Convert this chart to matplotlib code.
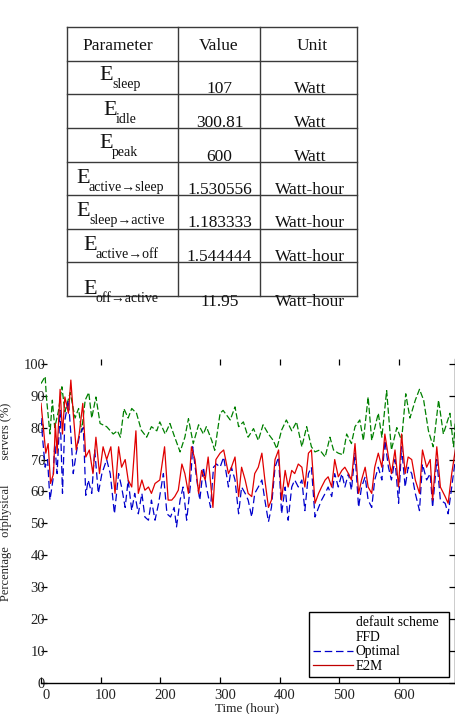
import matplotlib
matplotlib.use("Agg")
import matplotlib.pyplot as plt
import matplotlib.transforms as mtransforms
from matplotlib.lines import Line2D

# ---------------- table data ----------------
table_header = ["Parameter", "Value", "Unit"]
param_main = ["E", "E", "E", "E", "E", "E", "E"]
param_sub = ["sleep", "idle", "peak", "active\u2192sleep", "sleep\u2192active",
             "active\u2192off", "off\u2192active"]
param_values = ["107", "300.81", "600", "1.530556", "1.183333", "1.544444", "11.95"]
param_units = ["Watt", "Watt", "Watt", "Watt-hour", "Watt-hour", "Watt-hour", "Watt-hour"]

# ---------------- chart data ----------------
t_default = [0, 7, 9, 15, 19, 23, 29, 35, 40, 49, 57, 63, 68, 74, 80, 85, 92, 99, 110, 121,
             128, 133, 139, 146, 152, 160, 168, 177, 185, 194, 199, 208, 216, 224, 233, 241,
             247, 255, 264, 272, 277, 286, 291, 300, 305, 317, 325, 331, 339, 347, 356, 364,
             372, 381, 389, 395, 403, 411, 420, 428, 437, 445, 453, 459, 467, 476, 484, 490,
             498, 506, 512, 520, 526, 534, 540, 548, 554, 565, 571, 579, 587, 596, 604, 611,
             618, 627, 634, 641, 649, 657, 666, 674, 685, 691, 694]
v_default = [93.8, 96.0, 89.6, 78.0, 88.6, 80.0, 85.0, 92.8, 85.0, 91.0, 83.0, 86.0, 78.7, 88.6,
             91.0, 83.0, 89.6, 81.3, 80.3, 78.0, 79.0, 77.0, 85.9, 83.0, 86.0, 84.5, 79.2, 77.0,
             80.3, 79.0, 81.8, 78.0, 81.3, 77.0, 72.4, 77.0, 82.8, 75.0, 80.9, 78.0, 80.3, 76.0,
             72.9, 84.5, 85.4, 82.4, 86.5, 80.3, 81.8, 77.0, 79.7, 76.0, 80.9, 78.0, 76.0, 73.4,
             79.2, 82.4, 79.0, 81.8, 74.0, 80.3, 74.0, 72.4, 73.0, 70.8, 77.0, 73.0, 72.0, 71.5,
             78.0, 75.0, 80.3, 82.4, 76.0, 89.6, 76.0, 84.5, 77.0, 91.6, 73.0, 80.0, 76.0, 90.6,
             83.0, 88.6, 92.0, 88.6, 79.0, 74.0, 88.6, 78.0, 84.5, 74.0, 82.0]

t_optimal = [0, 3, 7, 11, 15, 20, 23, 27, 32, 36, 40, 46, 50, 54, 59, 65, 71, 75, 79, 85, 90,
             96, 102, 110, 116, 123, 130, 135, 141, 146, 152, 157, 163, 169, 174, 180, 185, 191,
             197, 205, 211, 217, 223, 227, 233, 238, 244, 250, 254, 261, 266, 272, 277, 284, 289,
             294, 300, 306, 314, 319, 325, 331, 336, 342, 347, 353, 358, 364, 370, 375, 381, 386,
             392, 398, 403, 409, 414, 420, 425, 431, 437, 442, 448, 453, 459, 465, 470, 476, 481,
             487, 492, 498, 504, 509, 515, 520, 526, 532, 537, 543, 548, 554, 559, 565, 571, 576,
             582, 587, 593, 599, 604, 610, 615, 621, 627, 634, 639, 646, 652, 656, 663, 669, 677,
             682, 688, 694]
v_optimal = [83.0, 76.0, 67.6, 70.0, 57.3, 63.6, 75.0, 65.6, 85.4, 59.4, 82.4, 88.6, 78.0, 65.6,
             72.0, 78.0, 80.0, 58.8, 63.6, 59.4, 73.0, 59.4, 65.6, 70.0, 65.6, 53.0, 65.6, 61.4,
             55.0, 63.6, 54.0, 59.4, 53.0, 59.4, 52.0, 51.0, 57.3, 51.0, 56.3, 65.6, 53.0, 52.0,
             55.0, 48.9, 57.3, 61.4, 51.0, 61.4, 74.0, 63.6, 57.3, 67.6, 61.4, 55.0, 67.6, 68.6,
             67.6, 70.8, 61.4, 67.6, 63.6, 53.0, 61.4, 59.4, 57.3, 52.0, 59.4, 61.4, 63.6, 57.3,
             50.5, 55.0, 67.6, 70.8, 53.0, 61.4, 51.0, 61.4, 63.6, 61.4, 63.6, 54.0, 65.6, 67.6,
             52.0, 55.0, 57.3, 59.4, 61.4, 58.4, 65.6, 61.4, 65.6, 61.4, 65.6, 60.4, 72.0, 55.0,
             61.4, 64.6, 57.3, 55.0, 63.6, 67.6, 63.6, 76.0, 67.6, 63.6, 70.0, 56.3, 74.0, 61.4,
             67.6, 65.6, 59.4, 54.0, 68.6, 63.6, 65.6, 55.0, 70.0, 57.3, 56.3, 53.0, 61.4, 70.0]

t_e2m = [0, 4, 8, 12, 16, 21, 24, 27, 32, 36, 40, 46, 50, 54, 59, 64, 70, 75, 81, 87, 92, 98,
         104, 110, 117, 124, 130, 135, 141, 146, 152, 159, 163, 169, 174, 180, 185, 191, 199, 207,
         213, 219, 224, 230, 236, 241, 247, 252, 258, 264, 269, 275, 280, 288, 293, 300, 306, 314,
         319, 325, 331, 336, 342, 347, 353, 358, 364, 370, 375, 381, 386, 392, 398, 403, 409, 414,
         420, 425, 431, 437, 442, 448, 453, 459, 465, 470, 476, 481, 487, 492, 498, 504, 509, 515,
         520, 526, 532, 537, 543, 548, 554, 559, 565, 571, 576, 582, 587, 593, 599, 604, 610, 615,
         621, 627, 634, 639, 646, 652, 656, 663, 669, 677, 682, 688, 694]
v_e2m = [87.6, 80.0, 72.0, 75.0, 62.5, 65.6, 81.3, 72.0, 92.0, 78.0, 89.6, 84.5, 94.9, 84.5, 73.0,
         78.0, 87.6, 70.8, 73.0, 65.6, 77.0, 65.6, 74.0, 70.0, 74.0, 59.4, 74.0, 67.6, 70.0, 63.6,
         61.4, 79.0, 59.4, 63.6, 60.4, 61.4, 59.4, 62.5, 63.6, 74.0, 57.3, 57.3, 58.4, 60.4, 68.6,
         65.6, 59.4, 74.0, 70.0, 59.4, 66.6, 63.6, 70.8, 55.0, 70.0, 72.0, 73.0, 65.6, 67.6, 70.8,
         58.4, 67.6, 63.6, 59.4, 58.4, 65.6, 67.6, 72.0, 63.6, 55.0, 57.3, 70.0, 73.0, 57.3, 66.6,
         61.4, 66.6, 65.6, 68.6, 67.6, 61.4, 72.0, 73.0, 56.3, 59.4, 61.4, 63.6, 64.6, 61.4, 70.0,
         64.6, 66.6, 67.6, 65.6, 63.6, 75.0, 59.4, 63.6, 67.6, 61.4, 59.4, 67.6, 72.0, 67.6, 78.0,
         70.8, 65.6, 73.0, 61.4, 78.0, 65.6, 70.8, 70.0, 63.6, 59.4, 73.0, 67.6, 70.0, 57.3, 74.0,
         61.4, 58.4, 56.3, 65.6, 73.0]

x_ticks = [0, 100, 200, 300, 400, 500, 600]
x_top_ticks = [100, 300, 400, 500, 600]
y_ticks = [0, 10, 20, 30, 40, 50, 60, 70, 80, 90, 100]
legend_labels = ["default scheme", "FFD", "Optimal", "E2M"]

# ---------------- figure ----------------
W, H = 456, 714
fig = plt.figure(figsize=(W / 100, H / 100), dpi=100)
SERIF = ["Liberation Serif", "DejaVu Serif"]


def fx(px):
    return px / W


def fy(py):
    return 1 - py / H


# ---- table ----
col_x = [67, 178, 260, 357]
row_y = [27, 61, 94, 128, 162, 195, 229, 262, 296]
tcol = "#3a3a3a"
for xx in col_x:
    fig.add_artist(Line2D([fx(xx), fx(xx)], [fy(row_y[0]), fy(row_y[-1])],
                          color=tcol, lw=1.0, transform=fig.transFigure))
for yy in row_y:
    fig.add_artist(Line2D([fx(col_x[0]), fx(col_x[-1])], [fy(yy), fy(yy)],
                          color=tcol, lw=1.0, transform=fig.transFigure))

hdr_x = [118, 219, 312]
for lbl, hx in zip(table_header, hdr_x):
    fig.text(fx(hx), fy(50), lbl, ha="center", va="baseline", fontsize=12.5,
             family=SERIF, color="#111111")

e_left = [99, 103, 99, 76, 76, 83, 83]
e_base_off = [19, 21, 20, 21, 21, 21, 32]
val_base_off = [32, 33, 33, 32, 32, 32, 44]
for i in range(7):
    top = row_y[i + 1]
    fig.text(fx(e_left[i]), fy(top + e_base_off[i]), param_main[i], ha="left",
             va="baseline", fontsize=16, family=SERIF, color="#111111")
    fig.text(fx(e_left[i] + 13), fy(top + e_base_off[i] + 8), param_sub[i], ha="left",
             va="baseline", fontsize=10, family=SERIF, color="#111111")
    fig.text(fx(219.5), fy(top + val_base_off[i]), param_values[i], ha="center",
             va="baseline", fontsize=12.5, family=SERIF, color="#111111")
    fig.text(fx(310), fy(top + val_base_off[i]), param_units[i], ha="center",
             va="baseline", fontsize=12.5, family=SERIF, color="#111111")

# ---- chart ----
ax_l, ax_r, ax_t, ax_b = 41, 455, 359, 683
ax = fig.add_axes([fx(ax_l), fy(ax_b), (ax_r - ax_l) / W, (ax_b - ax_t) / H])
ax.set_xlim(0, 693.5)
ax.set_ylim(0, 101.5)

ax.plot(t_default, v_default, color="#008000", lw=0.9, linestyle=(0, (5, 2)),
        label=legend_labels[0])
ax.plot(t_optimal, v_optimal, color="#0000cc", lw=0.9, dashes=(6, 3),
        label=legend_labels[2])
ax.plot(t_e2m, v_e2m, color="#e00000", lw=0.9, label=legend_labels[3])

for s in ["left", "top"]:
    ax.spines[s].set_visible(False)
ax.spines["right"].set_linewidth(1.0)
ax.spines["bottom"].set_linewidth(1.0)

ax.set_xticks(x_ticks)
ax.set_yticks(y_ticks)
ax.tick_params(axis="x", direction="in", length=4, width=0.9, pad=4,
               labelsize=10.5)
ax.tick_params(axis="y", direction="in", length=4, width=0.9, pad=-3,
               labelsize=10.5, right=True)
shift = mtransforms.ScaledTranslation(5 / 100, 0, fig.dpi_scale_trans)
for lab in ax.get_xticklabels():
    lab.set_transform(lab.get_transform() + shift)
for lab in ax.get_xticklabels() + ax.get_yticklabels():
    lab.set_family(SERIF)
    lab.set_color("#222222")

top = ax.secondary_xaxis("top")
top.set_xticks(x_top_ticks)
top.tick_params(direction="in", length=4, width=0.9, labeltop=False)
top.spines["top"].set_visible(False)

handles = [Line2D([], [], color="none"), Line2D([], [], color="none"),
           Line2D([], [], color="#0000cc", lw=0.9, dashes=(6, 3)),
           Line2D([], [], color="#c00000", lw=0.9)]
leg = ax.legend(handles, legend_labels, loc="lower left",
                bbox_to_anchor=(fx(309), fy(677), (449 - 309) / W, (677 - 612) / H),
                bbox_transform=fig.transFigure, mode="expand", borderaxespad=0,
                fancybox=False, framealpha=1, edgecolor="black",
                prop={"family": SERIF, "size": 9.8}, handlelength=2.9,
                handletextpad=0.25, labelspacing=0.12, borderpad=0.3)
leg.get_frame().set_linewidth(1.0)

fig.text(fx(6), fy(502), "Percentage   ofphysical        servers (%)", rotation=90,
         ha="center", va="center", fontsize=9, family=SERIF, color="#222222")
fig.text(fx(247), fy(708), "Time (hour)", ha="center", va="center", fontsize=9.5,
         family=SERIF, color="#222222")

fig.savefig("out.png", dpi=100)
